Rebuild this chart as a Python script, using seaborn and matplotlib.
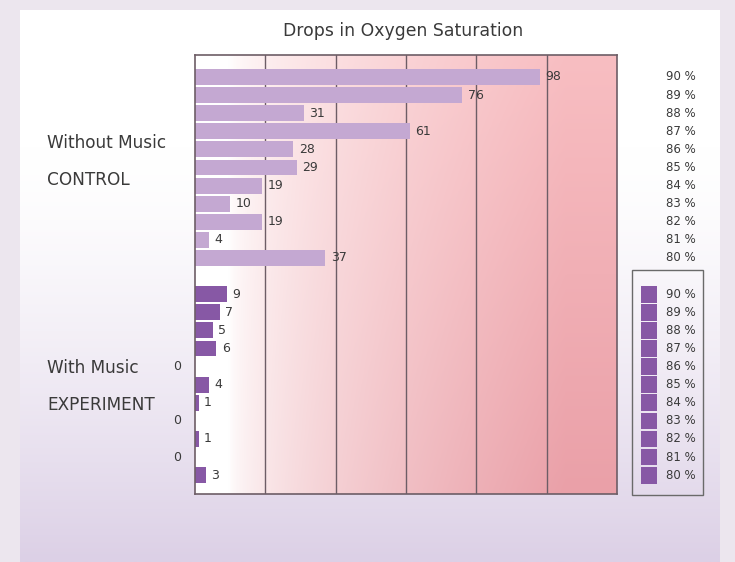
import numpy as np
import pandas as pd
import matplotlib
matplotlib.use("Agg")
import matplotlib.pyplot as plt
import seaborn as sns
from matplotlib.patches import Rectangle
from matplotlib.transforms import blended_transform_factory

# ---------------- data ----------------
title = "Drops in Oxygen Saturation"
levels = ["90 %", "89 %", "88 %", "87 %", "86 %", "85 %", "84 %", "83 %", "82 %", "81 %", "80 %"]
control = [98, 76, 31, 61, 28, 29, 19, 10, 19, 4, 37]
experiment = [9, 7, 5, 6, 0, 4, 1, 0, 1, 0, 3]
group_names = ["Without Music", "With Music"]
group_subs = ["CONTROL", "EXPERIMENT"]
x_grid = [20, 40, 60, 80, 100]

W, H = 735, 562
def fx(px):
    return px / W
def fy(py):
    return 1 - py / H

sns.set_theme(style="white")
plt.rcParams["font.family"] = ["DejaVu Sans"]

slots_c = ["C " + l for l in levels]
slots_e = ["E " + l for l in levels]
order = slots_c + ["gap"] + slots_e
df = pd.DataFrame({
    "slot": slots_c + slots_e,
    "value": control + experiment,
    "group": [group_names[0]] * len(control) + [group_names[1]] * len(experiment),
})
pal = {group_names[0]: "#C4A8D2", group_names[1]: "#8758A5"}

fig = plt.figure(figsize=(7.35, 5.62), dpi=100)
fig.patch.set_facecolor("#ECE6EE")

# inner panel background gradient
bg = fig.add_axes([fx(20), 0, fx(700), fy(10)], zorder=-10)
ny = 200
t = np.clip((np.linspace(0, 1, ny) - 0.25) / 0.75, 0, 1) ** 1.4
top = np.array([1.0, 1.0, 1.0])
bot = np.array([220, 208, 230]) / 255
col = top[None, :] * (1 - t[:, None]) + bot[None, :] * t[:, None]
bg.imshow(col[:, None, :], aspect="auto", extent=[0, 1, 0, 1], origin="upper")
bg.set_axis_off()

ax = fig.add_axes([fx(195), fy(494), fx(422), (494 - 55) / H])
sns.barplot(data=df, x="value", y="slot", hue="group", order=order, palette=pal,
            dodge=False, width=0.88, ax=ax, legend=False, saturation=1,
            errorbar=None, edgecolor="none", linewidth=0)

y_top, y_bot = -1.215, 23.04
# plot-area gradient
nx, ny2 = 300, 200
xf = np.linspace(0, 1, nx)
yf = np.linspace(0, 1, ny2)
tx = np.clip((xf - 0.08) / 0.8, 0, 1) ** 0.6
left_c = np.array([255, 255, 255]) / 255
right_top = np.array([248, 190, 194]) / 255
right_bot = np.array([234, 160, 168]) / 255
rc = right_top[None, :] * (1 - yf[:, None]) + right_bot[None, :] * yf[:, None]
img = left_c[None, None, :] * (1 - tx[None, :, None]) + rc[:, None, :] * tx[None, :, None]
ax.imshow(img, extent=[0, 120, y_bot, y_top], aspect="auto", origin="upper", zorder=-1)

for v in x_grid:
    ax.axvline(v, color="#6d5d66", lw=1.0, zorder=0.5)

ax.set_xlim(0, 120)
ax.set_ylim(y_bot, y_top)
ax.set_xticks([])
ax.set_yticks([])
ax.set_xlabel("")
ax.set_ylabel("")
for s in ax.spines.values():
    s.set_visible(True)
    s.set_color("#6d5d66")
    s.set_linewidth(1.2)

txt_col = "#3a3a3a"
pos = {s: i for i, s in enumerate(order)}
for s, v in zip(df["slot"], df["value"]):
    i = pos[s]
    if v == 0:
        ax.annotate(str(v), xy=(0, i), xytext=(-13, 0), textcoords="offset points",
                    ha="center", va="center", fontsize=9, color=txt_col, annotation_clip=False)
    else:
        ax.annotate(str(v), xy=(v, i), xytext=(4, 0), textcoords="offset points",
                    ha="left", va="center", fontsize=9, color=txt_col)

trans = blended_transform_factory(fig.transFigure, ax.transData)
for k, lvl in enumerate(levels):
    ax.text(fx(666), pos[slots_c[k]], lvl, ha="left", va="center", fontsize=8.5,
            color=txt_col, transform=trans, clip_on=False)
    j = pos[slots_e[k]]
    ax.add_patch(Rectangle((fx(641), j - 0.46), fx(16), 0.92, transform=trans,
                           facecolor=pal[group_names[1]], edgecolor="none", clip_on=False))
    ax.text(fx(666), j, lvl, ha="left", va="center", fontsize=8.5,
            color=txt_col, transform=trans, clip_on=False)

fig.add_artist(Rectangle((fx(632), fy(495)), fx(71), (495 - 270) / H, transform=fig.transFigure,
                         fill=False, edgecolor="#6a6a6a", lw=1))

fig.text(fx(403), fy(31), title, ha="center", va="center", fontsize=12.4, color=txt_col)
fig.text(fx(47), fy(143), group_names[0], ha="left", va="center", fontsize=12.2, color=txt_col)
fig.text(fx(47), fy(180), group_subs[0], ha="left", va="center", fontsize=12.2, color=txt_col)
fig.text(fx(47), fy(368), group_names[1], ha="left", va="center", fontsize=12.2, color=txt_col)
fig.text(fx(47), fy(405), group_subs[1], ha="left", va="center", fontsize=12.2, color=txt_col)

fig.savefig("out.png", dpi=100, facecolor=fig.get_facecolor())
